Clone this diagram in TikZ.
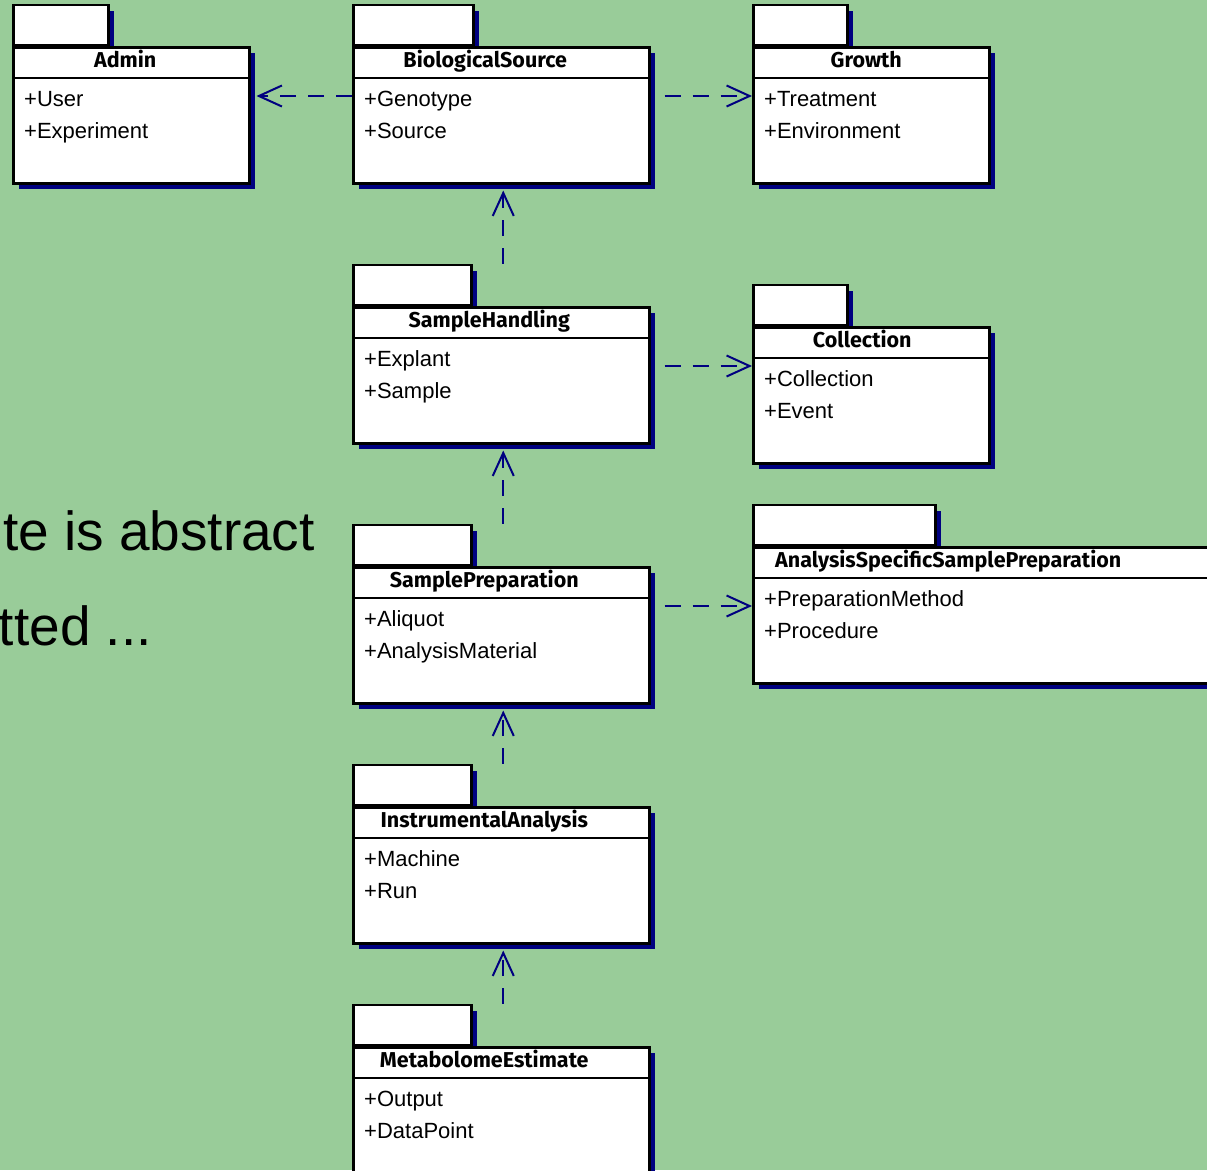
\documentclass[tikz,border=0pt]{standalone}
\usepackage{fontspec}
\setmainfont{Liberation Sans}
\newfontfamily\titlefont{Fira Sans}
\usetikzlibrary{positioning,shadows,arrows.meta}
\definecolor{sfondo}{RGB}{153,204,153}
\definecolor{ombra}{RGB}{0,0,128}

\begin{document}
\begin{tikzpicture}[x=1pt,y=-1pt]

% sfondo e dimensioni della figura
\fill[sfondo] (0,0) rectangle (1207,1170);
\useasboundingbox (0,0) rectangle (1207,1170);
\clip (0,0) rectangle (1207,1170);

% definizione dei pacchetti (corpo, linguetta, titolo, attributi)
\tikzset{pkgbody/.style={rectangle, draw=black, line width=2.5pt, fill=white, anchor=north west, inner sep=0pt, minimum height=136pt, drop shadow={shadow xshift=6pt, shadow yshift=-6pt, fill=ombra, opacity=1}}}
\tikzset{pkgtab/.style={pkgbody, anchor=south west, minimum height=40pt}}
\tikzset{pkgtitle/.style={anchor=base, inner sep=0pt, font=\titlefont\bfseries\fontsize{21.5}{25}\selectfont}}
\tikzset{pkgattr/.style={anchor=base west, inner sep=0pt, font=\fontsize{22}{26}\selectfont}}
% definizione delle dipendenze tratteggiate
\tikzset{dep/.style={draw=ombra, line width=2pt, dash pattern=on 16pt off 12pt, -{Straight Barb[length=23pt, width=21pt]}}}

% Disegna i pacchetti
\foreach \n/\x/\y/\w/\tw/\dx/\titolo/\a/\b in {
  admin/12/46/236/95/-6/Admin/User/Experiment,
  bio/352/46/296/120/-16/BiologicalSource/Genotype/Source,
  growth/752/46/236/94/-5/Growth/Treatment/Environment,
  handling/352/306/296/118/-12/SampleHandling/Explant/Sample,
  collection/752/326/236/94/-9/Collection/Collection/Event,
  prep/352/566/296/118/-17/SamplePreparation/Aliquot/AnalysisMaterial,
  analysis/752/546/480/182/-45/AnalysisSpecificSamplePreparation/PreparationMethod/Procedure,
  instrument/352/806/296/118/-17/InstrumentalAnalysis/Machine/Run,
  estimate/352/1046/296/118/-17/MetabolomeEstimate/Output/DataPoint}
{
  \node[pkgtab, minimum width=\tw pt] (tab\n) at (\x,\y) {};
  \node[pkgbody, minimum width=\w pt] (\n) at (\x,\y) {};
  \draw[line width=2pt] ([shift={(0,32)}]\n.north west) -- ([shift={(0,32)}]\n.north east);
  \node[pkgtitle] (titolo\n) at ([shift={(\dx,21)}]\n.north) {\titolo};
  \node[pkgattr] (a\n) at ([shift={(12,60)}]\n.north west) {+\a};
  \node[pkgattr] (b\n) at ([shift={(12,92)}]\n.north west) {+\b};
}

% Traccia le dipendenze
\draw[dep] ([shift={(0,50)}]bio.north west) -- ([shift={(6,50)}]admin.north east);
\draw[dep] ([shift={(14,50)}]bio.north east) -- ([shift={(0,50)}]growth.north west);
\draw[dep] ([shift={(2,0)}]tabhandling.north -| handling.north) -- ([shift={(2,6)}]bio.south);
\draw[dep] ([shift={(14,60)}]handling.north east) -- ([shift={(0,40)}]collection.north west);
\draw[dep] ([shift={(2,0)}]tabprep.north -| prep.north) -- ([shift={(2,6)}]handling.south);
\draw[dep] ([shift={(14,40)}]prep.north east) -- ([shift={(0,60)}]analysis.north west);
\draw[dep] ([shift={(2,0)}]tabinstrument.north -| instrument.north) -- ([shift={(2,6)}]prep.south);
\draw[dep] ([shift={(2,0)}]tabestimate.north -| estimate.north) -- ([shift={(2,6)}]instrument.south);

% Testo a sinistra
\node[anchor=base east, inner sep=0pt, font=\fontsize{55}{66}\selectfont] (nota1) at (315,550) {te is abstract};
\node[anchor=base east, inner sep=0pt, font=\fontsize{55}{66}\selectfont] (nota2) at (152,645) {tted ...};

\end{tikzpicture}
\end{document}
